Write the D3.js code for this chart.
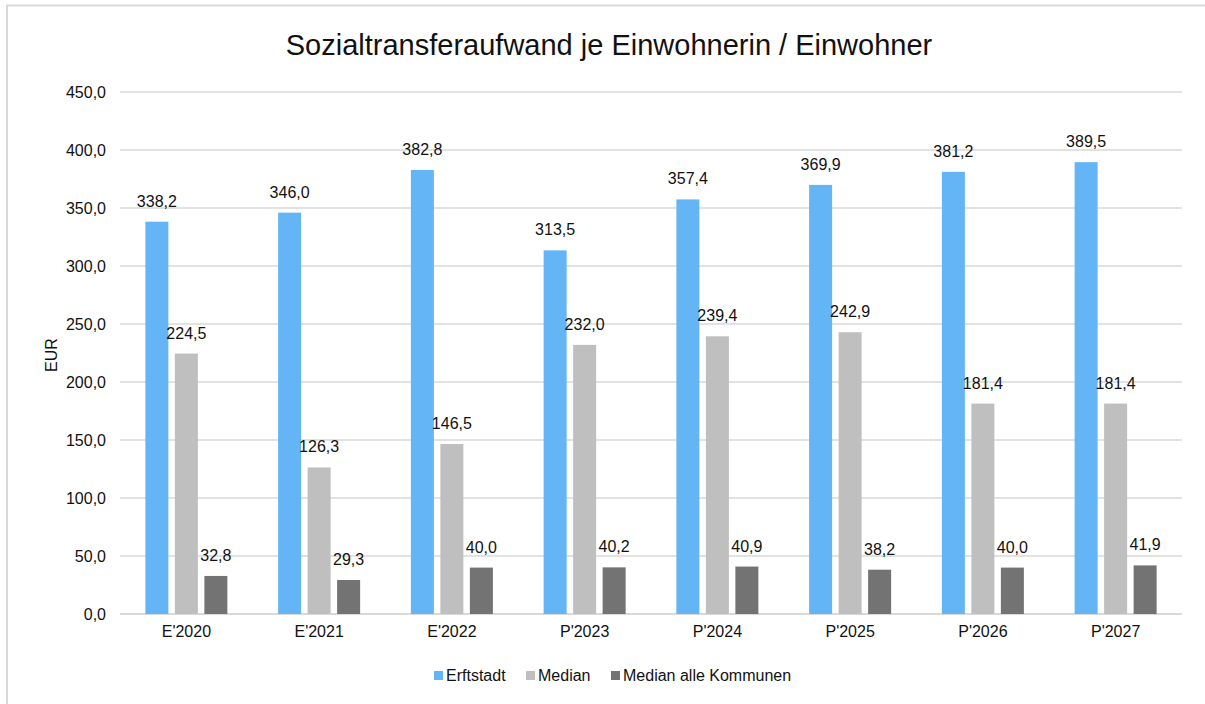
<!DOCTYPE html>
<html>
<head>
<meta charset="utf-8">
<script src="https://cdn.jsdelivr.net/npm/d3@7"></script>
<style>
  body { margin: 0; background: #fff; }
  text { font-family: "Liberation Sans", Arial, sans-serif; fill: #111; }
</style>
</head>
<body>
<svg id="chart" width="1205" height="704"></svg>
<script>
// 카테고리 / 시리즈
var categories = ["E'2020", "E'2021", "E'2022", "P'2023", "P'2024", "P'2025", "P'2026", "P'2027"];
var seriesNames = ["Erftstadt", "Median", "Median alle Kommunen"];
var erftstadt = [338.2, 346.0, 382.8, 313.5, 357.4, 369.9, 381.2, 389.5];
var median = [224.5, 126.3, 146.5, 232.0, 239.4, 242.9, 181.4, 181.4];
var medianAlle = [32.8, 29.3, 40.0, 40.2, 40.9, 38.2, 40.0, 41.9];
var yTicks = [0, 50, 100, 150, 200, 250, 300, 350, 400, 450];

var colors = ["#64b5f6", "#bfbfbf", "#737373"];
var seriesValues = [erftstadt, median, medianAlle];

var svg = d3.select("#chart");
var fmt = function(v) { return d3.format(".1f")(v).replace(".", ","); };

// 외곽 프레임
svg.append("rect")
  .attr("x", 7).attr("y", 5.5)
  .attr("width", 1240).attr("height", 760)
  .attr("fill", "none")
  .attr("stroke", "#d9d9d9")
  .attr("stroke-width", 2);

var margin = {left: 120, right: 1182, top: 92, bottom: 614};

var x0 = d3.scaleBand()
  .domain(categories)
  .range([margin.left, margin.right])
  .padding(0);

var x1 = d3.scaleBand()
  .domain(seriesNames)
  .range([0, x0.bandwidth()])
  .paddingInner(0.22)
  .paddingOuter(0.86);

var y = d3.scaleLinear()
  .domain([0, 450])
  .range([margin.bottom, margin.top]);

// 그리드
svg.append("g")
  .selectAll("line")
  .data(yTicks)
  .enter()
  .append("line")
  .attr("x1", margin.left)
  .attr("x2", margin.right)
  .attr("y1", function(d) { return y(d); })
  .attr("y2", function(d) { return y(d); })
  .attr("stroke", "#d9d9d9")
  .attr("stroke-width", function(d) { return d === 0 ? 2 : 1.5; });

// y축 라벨
var yAxis = svg.append("g")
  .attr("transform", "translate(" + margin.left + ",0)")
  .call(d3.axisLeft(y).tickValues(yTicks).tickFormat(fmt).tickSize(0).tickPadding(14));
yAxis.select(".domain").remove();
yAxis.selectAll("text")
  .style("font-size", "16px")
  .style("font-family", "Liberation Sans, Arial, sans-serif")
  .attr("fill", "#111");

// x축 라벨
var xAxis = svg.append("g")
  .attr("transform", "translate(0," + margin.bottom + ")")
  .call(d3.axisBottom(x0).tickSize(0).tickPadding(12));
xAxis.select(".domain").remove();
xAxis.selectAll("text")
  .style("font-size", "16px")
  .style("font-family", "Liberation Sans, Arial, sans-serif")
  .attr("fill", "#111");

// 막대
var groups = svg.append("g")
  .selectAll("g")
  .data(categories)
  .enter()
  .append("g")
  .attr("transform", function(d) { return "translate(" + x0(d) + ",0)"; });

groups.selectAll("rect")
  .data(function(d, i) {
    return seriesNames.map(function(s, j) { return {series: s, idx: j, value: seriesValues[j][i]}; });
  })
  .enter()
  .append("rect")
  .attr("x", function(d) { return x1(d.series); })
  .attr("y", function(d) { return y(d.value); })
  .attr("width", x1.bandwidth())
  .attr("height", function(d) { return y(0) - y(d.value); })
  .attr("fill", function(d) { return colors[d.idx]; });

groups.selectAll("text.val")
  .data(function(d, i) {
    return seriesNames.map(function(s, j) { return {series: s, idx: j, value: seriesValues[j][i]}; });
  })
  .enter()
  .append("text")
  .attr("class", "val")
  .attr("x", function(d) { return x1(d.series) + x1.bandwidth() / 2; })
  .attr("y", function(d) { return y(d.value) - 15; })
  .attr("text-anchor", "middle")
  .style("font-size", "16px")
  .text(function(d) { return fmt(d.value); });

// 제목
svg.append("text")
  .attr("x", 609)
  .attr("y", 55)
  .attr("text-anchor", "middle")
  .style("font-size", "29px")
  .text("Sozialtransferaufwand je Einwohnerin / Einwohner");

// 축 제목
svg.append("text")
  .attr("transform", "translate(57,355) rotate(-90)")
  .attr("text-anchor", "middle")
  .style("font-size", "16px")
  .text("EUR");

// 범례
var legendX = [434, 526, 611];
var legend = svg.append("g")
  .selectAll("g")
  .data(seriesNames)
  .enter()
  .append("g")
  .attr("transform", function(d, i) { return "translate(" + legendX[i] + ",671)"; });

legend.append("rect")
  .attr("width", 9)
  .attr("height", 9)
  .attr("fill", function(d, i) { return colors[i]; });

legend.append("text")
  .attr("x", 12)
  .attr("y", 9.5)
  .style("font-size", "16px")
  .text(function(d) { return d; });
</script>
</body>
</html>
